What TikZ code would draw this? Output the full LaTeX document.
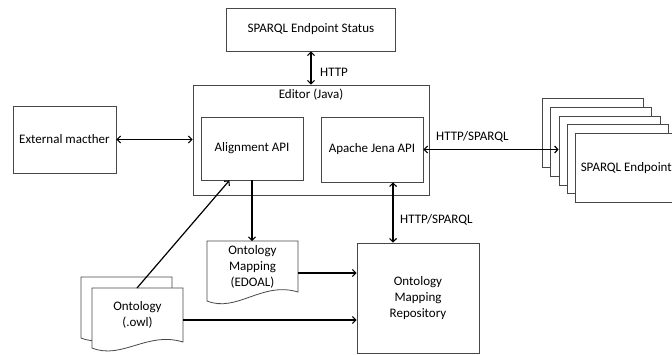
\documentclass[tikz,border=0pt]{standalone}
\usepackage{fontspec}
\setmainfont{Carlito}
\usetikzlibrary{arrows.meta,calc}
\begin{document}
\begin{tikzpicture}[x=1pt,y=-1pt,
  font=\fontsize{13}{15.8}\selectfont,
  box/.style={draw=black!72, line width=0.8pt, fill=white, inner sep=0pt, align=center},
  docline/.style={draw=black!72, line width=0.8pt, fill=white},
  tip/.tip={Straight Barb[length=3.4pt,width=7pt,line width=1.1pt]},
  conn/.style={line width=1.2pt, black, -tip},
  biconn/.style={line width=1.2pt, black, tip-tip},
  lbl/.style={inner sep=0pt, anchor=west}]
\useasboundingbox (0,0) rectangle (672,354);

% top status box
\node[box, minimum width=169pt, minimum height=43pt] (status) at (311,29.5) {SPARQL Endpoint Status};

% editor container
\node[box, minimum width=236pt, minimum height=110pt] (editor) at (311,140) {};
\node[inner sep=0pt] (editorlbl) at (311,95) {Editor (Java)};
\node[box, minimum width=102pt, minimum height=63pt] (align) at (252,148.5) {Alignment API};
\node[box, minimum width=102pt, minimum height=65pt] (jena) at (372,149.5) {Apache Jena API};

% external matcher
\node[box, minimum width=103pt, minimum height=67pt] (ext) at (64.5,139.5) {External macther};

% repository
\node[box, minimum width=122pt, minimum height=110pt] (repo) at (418,298) {Ontology\\Mapping\\Repository};

% stack of SPARQL endpoints
\foreach \i in {0,1,2,3} {
  \node[box, minimum width=101pt, minimum height=69pt, anchor=north west] (sep\i) at ({542+8.35*\i},{98+8.75*\i}) {};
}
\node[box, minimum width=101pt, minimum height=69pt, anchor=north west] (sep4) at (575.4,133) {SPARQL Endpoint};

% documents
\draw[docline] (207,241) -- (298,241) -- (298,292) .. controls (262,281) and (237,313) .. (207,301) -- cycle;
\node[inner sep=0pt, align=center] (edoal) at (252.5,267) {Ontology\\Mapping\\(EDOAL)};

\draw[docline] (81,277) -- (172,277) -- (172,331) .. controls (136,320) and (111,350) .. (81,338) -- cycle;
\draw[docline] (92,288) -- (183,288) -- (183,342) .. controls (147,331) and (122,360) .. (92,348) -- cycle;
\node[inner sep=0pt, align=center] (owl) at (137.5,315) {Ontology\\(.owl)};

\coordinate (edoalTop) at (252,241);
\coordinate (edoalR) at (298,273);
\coordinate (owlR) at (183,320);
\coordinate (owlTop) at (137,288);
\coordinate (jenaB) at ($(jena.south west)!0.705!(jena.south east)$);
\coordinate (alignB) at ($(align.south west)!0.28!(align.south east)$);

% connectors
\draw[biconn] (status.south) -- (editor.north);
\draw[biconn] (ext.east) -- (ext.east -| editor.west);
\draw[biconn] (jena.east) -- (jena.east -| sep2.west);
\draw[conn] (align.south) -- (edoalTop);
\draw[biconn] (jenaB) -- (jenaB |- repo.north);
\draw[conn] (edoalR) -- (edoalR -| repo.west);
\draw[conn] (owlR) -- (owlR -| repo.west);
\draw[conn] (owlTop) -- (alignB);

% labels
\node[lbl] (lblhttp) at (320,72) {HTTP};
\node[lbl] (lblhs1) at (436,137) {HTTP/SPARQL};
\node[lbl] (lblhs2) at (400,220) {HTTP/SPARQL};
\end{tikzpicture}
\end{document}
